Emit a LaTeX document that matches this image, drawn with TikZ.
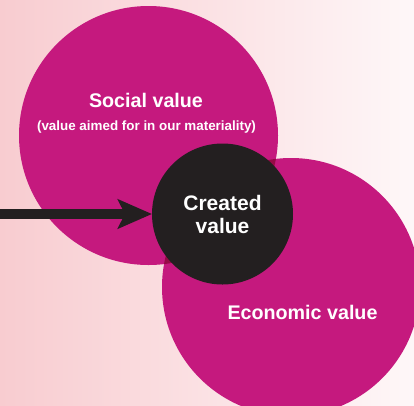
\documentclass[tikz,border=0pt]{standalone}
\usepackage{fontspec}
\setmainfont{Liberation Sans}
\usetikzlibrary{arrows.meta}

\definecolor{bgLeft}{RGB}{248,204,208}
\definecolor{bgRight}{RGB}{254,247,248}
\definecolor{magentaFill}{RGB}{197,25,126}
\definecolor{lensFill}{RGB}{150,10,70}
\definecolor{coreFill}{RGB}{35,31,32}

\tikzset{
  valuedisc/.style={circle, fill=magentaFill, inner sep=0pt, outer sep=0pt, minimum size=#1},
  coredisc/.style={circle, fill=coreFill, inner sep=0pt, outer sep=0pt, minimum size=141pt,
    text=white, align=center, font=\bfseries\fontsize{21}{24}\selectfont},
  heading/.style={text=white, inner sep=0pt, anchor=base, font=\bfseries\fontsize{19.7}{24}\selectfont},
  subheading/.style={text=white, inner sep=0pt, anchor=base, font=\bfseries\fontsize{13.4}{16}\selectfont},
  flow/.style={draw=coreFill, line width=10pt, -{Stealth[length=34pt, width=29pt, inset=7pt]}}
}

\begin{document}
\begin{tikzpicture}[x=1pt, y=-1pt]
  % page background
  \shade[left color=bgLeft, right color=bgRight] (0,0) rectangle (414,405);
  \useasboundingbox (0,0) rectangle (414,405);

  % the two value discs
  \node[valuedisc=259pt] (social) at (148.5,135.5) {};
  \node[valuedisc=258pt] (economic) at (291,287) {};

  % where the two discs overlap
  \begin{scope}
    \clip (social.center) circle[radius=129.5pt];
    \fill[lensFill] (economic.center) circle[radius=129pt];
  \end{scope}

  % central disc
  \node[coredisc] (created) at (222.5,214) {Created\\[-1pt]value};

  % incoming arrow
  \coordinate (src) at (0,214);
  \draw[flow] (src) -- (created.west);

  % labels
  \node[heading] (socialLabel) at (146,107) {Social value};
  \node[subheading] (socialNote) at (146.5,130) {(value aimed for in our materiality)};
  \node[heading] (economicLabel) at (302.5,319) {Economic value};
\end{tikzpicture}
\end{document}
